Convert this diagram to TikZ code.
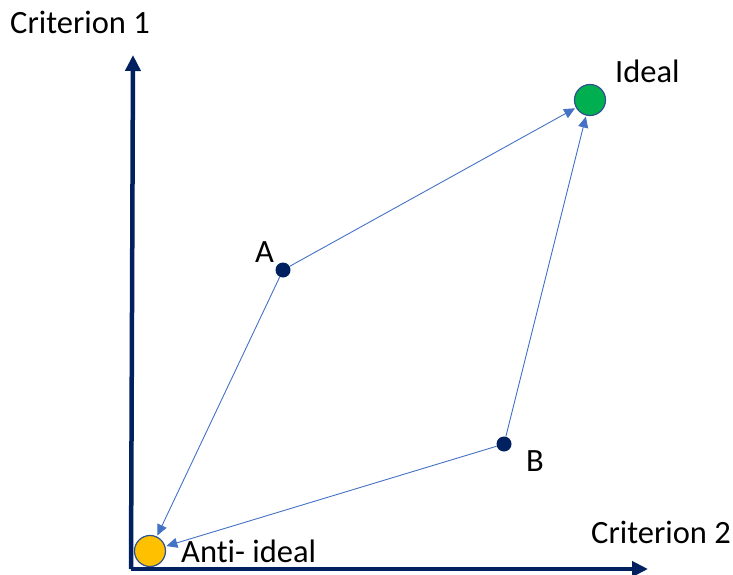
\documentclass[tikz,border=0pt]{standalone}
\usepackage{fontspec}
\setmainfont[Ligatures={NoCommon}]{Carlito}
\usetikzlibrary{arrows.meta}
\definecolor{navy}{HTML}{002060}
\definecolor{linkblue}{HTML}{4472C4}
\definecolor{rim}{HTML}{2F528F}
\definecolor{idealgreen}{HTML}{00B050}
\definecolor{antiorange}{HTML}{FFC000}
\tikzset{
  axis/.style={draw=navy, line width=4.5pt, -{Triangle[length=16pt,width=15pt]}},
  link/.style={draw=linkblue, line width=0.9pt, -{Triangle[length=11pt,width=10pt]}, shorten >=1pt},
  bigdot/.style={circle, draw=rim, line width=1.2pt, minimum size=31pt, inner sep=0pt},
  smalldot/.style={circle, fill=navy, minimum size=15pt, inner sep=0pt},
  lbl/.style={font=\fontsize{32.5}{38}\selectfont, anchor=base west, inner sep=0pt}
}
\begin{document}
\begin{tikzpicture}[x=1pt,y=-1pt]
\useasboundingbox (0,0) rectangle (733,575);
\coordinate (ytip) at (133,55);
\coordinate (xtip) at (648,569);
\draw[axis] (131,569) -- (ytip);
\draw[axis] (131,569) -- (xtip);
\node[bigdot, fill=idealgreen] (ideal) at (590,100) {};
\node[bigdot, fill=antiorange] (anti) at (150,551) {};
\node[smalldot] (a) at (283,270) {};
\node[smalldot] (b) at (504,444) {};
\draw[link] (a) -- (ideal);
\draw[link] (b) -- (ideal);
\draw[link] (a) -- (anti);
\draw[link] (b) -- (anti);
\node[lbl] (c1) at (10,34) {Criterion 1};
\node[lbl] (c2) at (591,543) {Criterion 2};
\node[lbl] (il) at (615,83) {Ideal};
\node[lbl] (al) at (181,562) {Anti- ideal};
\node[lbl] (la) at (255,262) {A};
\node[lbl] (lb) at (526,471) {B};
\end{tikzpicture}
\end{document}
